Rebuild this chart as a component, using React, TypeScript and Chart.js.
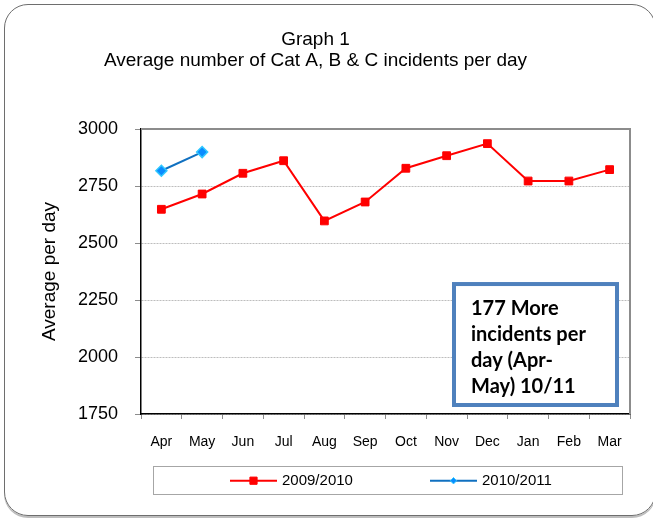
import React, { useEffect, useRef } from 'react';
import { Chart, registerables } from 'chart.js';

Chart.register(...registerables);

const months = ['Apr', 'May', 'Jun', 'Jul', 'Aug', 'Sep', 'Oct', 'Nov', 'Dec', 'Jan', 'Feb', 'Mar'];
const series0910 = [2648, 2715, 2806, 2861, 2597, 2680, 2828, 2883, 2936, 2772, 2772, 2822];
const series1011 = [2817, 2899, null, null, null, null, null, null, null, null, null, null];
const seriesNames = ['2009/2010', '2010/2011'];
const yTicks = [1750, 2000, 2250, 2500, 2750, 3000];
const titleLines = ['Graph 1', 'Average number of Cat A, B & C incidents per day'];
const yAxisTitle = 'Average per day';
const calloutLines = ['177 More', 'incidents per', 'day (Apr-', 'May) 10/11'];

const FONT = "'Liberation Sans', Arial, sans-serif";

const framePlugin = {
  id: 'plotFrame',
  afterDraw(chart: any) {
    const { ctx } = chart;
    const { left, right, top } = chart.chartArea;
    ctx.save();
    ctx.strokeStyle = '#8c8c8c';
    ctx.lineWidth = 2;
    ctx.beginPath();
    ctx.moveTo(left, top);
    ctx.lineTo(right, top);
    ctx.lineTo(right, chart.chartArea.bottom);
    ctx.stroke();
    ctx.restore();
  },
};

const calloutPlugin = {
  id: 'callout',
  afterDraw(chart: any) {
    const { ctx } = chart;
    const { right, top, bottom } = chart.chartArea;
    const x1 = right - 176;
    const x2 = right - 13;
    const y1 = top + 155;
    const y2 = bottom - 9;
    ctx.save();
    ctx.fillStyle = '#ffffff';
    ctx.fillRect(x1, y1, x2 - x1, y2 - y1);
    ctx.strokeStyle = '#4f81bd';
    ctx.lineWidth = 4;
    ctx.strokeRect(x1, y1, x2 - x1, y2 - y1);
    ctx.fillStyle = '#000000';
    ctx.font = "bold 20px Lato, 'Open Sans', sans-serif";
    ctx.textAlign = 'left';
    ctx.textBaseline = 'alphabetic';
    calloutLines.forEach((line, i) => {
      ctx.fillText(line, x1 + 17, y1 + 30.5 + i * 26);
    });
    ctx.restore();
  },
};

function drawMarker(ctx: any, ds: any, x: number, y: number, small: number) {
  ctx.save();
  ctx.fillStyle = ds.pointBackgroundColor;
  ctx.strokeStyle = ds.pointBorderColor;
  ctx.lineWidth = 1;
  ctx.beginPath();
  if (ds.pointStyle === 'rectRot') {
    ctx.moveTo(x - small, y);
    ctx.lineTo(x, y - small);
    ctx.lineTo(x + small, y);
    ctx.lineTo(x, y + small);
    ctx.closePath();
  } else {
    ctx.rect(x - small, y - small, small * 2, small * 2);
  }
  ctx.fill();
  ctx.stroke();
  ctx.restore();
}

const legendPlugin = {
  id: 'boxLegend',
  afterDraw(chart: any) {
    const { ctx } = chart;
    const { left, right, bottom } = chart.chartArea;
    const bx1 = Math.round(left + 12) + 0.5;
    const bx2 = Math.round(right - 8) + 0.5;
    const by1 = Math.round(bottom + 52) + 0.5;
    const by2 = Math.round(bottom + 80) + 0.5;
    ctx.save();
    ctx.strokeStyle = '#a6a6a6';
    ctx.lineWidth = 1;
    ctx.strokeRect(bx1, by1, bx2 - bx1, by2 - by1);
    const cy = bottom + 66.7;
    chart.data.datasets.forEach((ds: any, i: number) => {
      const lx = left + 89 + i * 200;
      ctx.strokeStyle = ds.borderColor;
      ctx.lineWidth = 2;
      ctx.beginPath();
      ctx.moveTo(lx, cy);
      ctx.lineTo(lx + 47, cy);
      ctx.stroke();
      drawMarker(ctx, ds, lx + 23.5, cy, ds.pointStyle === 'rectRot' ? 3.2 : 3.6);
      ctx.fillStyle = '#000000';
      ctx.font = `15px ${FONT}`;
      ctx.textAlign = 'left';
      ctx.textBaseline = 'middle';
      ctx.fillText(ds.label, lx + 52, cy);
    });
    ctx.restore();
  },
};

export default function App() {
  const canvasRef = useRef<HTMLCanvasElement | null>(null);

  useEffect(() => {
    const canvas = canvasRef.current;
    if (!canvas) return;
    const chart = new Chart(canvas, {
      type: 'line',
      data: {
        labels: months,
        datasets: [
          {
            label: seriesNames[0],
            data: series0910,
            borderColor: '#ff0000',
            backgroundColor: '#ff0000',
            borderWidth: 2,
            pointStyle: 'rect',
            pointRadius: 5.5,
            pointBackgroundColor: '#ff0000',
            pointBorderColor: '#ff0000',
            pointBorderWidth: 1,
            tension: 0,
          },
          {
            label: seriesNames[1],
            data: series1011,
            borderColor: '#1070c0',
            backgroundColor: '#0a8cff',
            borderWidth: 2,
            pointStyle: 'rectRot',
            pointRadius: 5.5,
            pointBackgroundColor: '#0a8cff',
            pointBorderColor: '#30c8ff',
            pointBorderWidth: 1.5,
            tension: 0,
            spanGaps: false,
          },
        ],
      },
      options: {
        responsive: false,
        animation: false,
        devicePixelRatio: 1,
        layout: { padding: { left: 1, right: 23, top: 0, bottom: 64 } },
        plugins: {
          legend: { display: false },
          tooltip: { enabled: false },
          title: {
            display: true,
            text: titleLines,
            color: '#000000',
            font: { family: FONT, size: 19, weight: 'normal', lineHeight: 1.08 },
            padding: { top: 30, bottom: 58 },
          },
        },
        scales: {
          x: {
            type: 'category',
            offset: true,
            grid: {
              drawOnChartArea: false,
              drawTicks: true,
              offset: true,
              tickLength: 5,
              tickColor: '#8c8c8c',
            },
            border: { display: true, color: '#000000', width: 1.5 },
            ticks: {
              color: '#000000',
              font: { family: FONT, size: 14 },
              padding: 15,
              maxRotation: 0,
              autoSkip: false,
            },
            afterFit: (scale: any) => {
              scale.height = 40;
            },
          },
          y: {
            type: 'linear',
            min: 1750,
            max: 3000,
            afterBuildTicks: (scale: any) => {
              scale.ticks = yTicks.map((v) => ({ value: v }));
            },
            grid: {
              color: '#bdbdbd',
              lineWidth: 1,
              tickLength: 6,
              tickColor: '#8c8c8c',
              tickBorderDash: [],
            },
            border: { display: true, color: '#000000', width: 1.5, dash: [2, 1] },
            ticks: {
              color: '#000000',
              font: { family: FONT, size: 18 },
              padding: 17,
              callback: (v: any) => String(v),
            },
            title: {
              display: true,
              text: yAxisTitle,
              color: '#000000',
              font: { family: FONT, size: 19 },
              padding: { top: 37, bottom: 0 },
            },
            afterFit: (scale: any) => {
              scale.width = 140;
            },
          },
        },
      },
      plugins: [framePlugin, calloutPlugin, legendPlugin],
    } as any);
    return () => chart.destroy();
  }, []);

  return (
    <div
      style={{
        position: 'fixed',
        left: 0,
        top: 0,
        width: 653,
        height: 518,
        overflow: 'hidden',
        background: '#ffffff',
      }}
    >
      <div
        style={{
          position: 'absolute',
          left: 4,
          top: 4,
          width: 650,
          height: 510,
          border: '1px solid #6e6e6e',
          borderRadius: 24,
          boxShadow: '0 2px 0 #bdbdbd',
        }}
      />
      <canvas
        ref={canvasRef}
        width={653}
        height={518}
        style={{ position: 'absolute', left: 0, top: 0, width: 653, height: 518 }}
      />
    </div>
  );
}
